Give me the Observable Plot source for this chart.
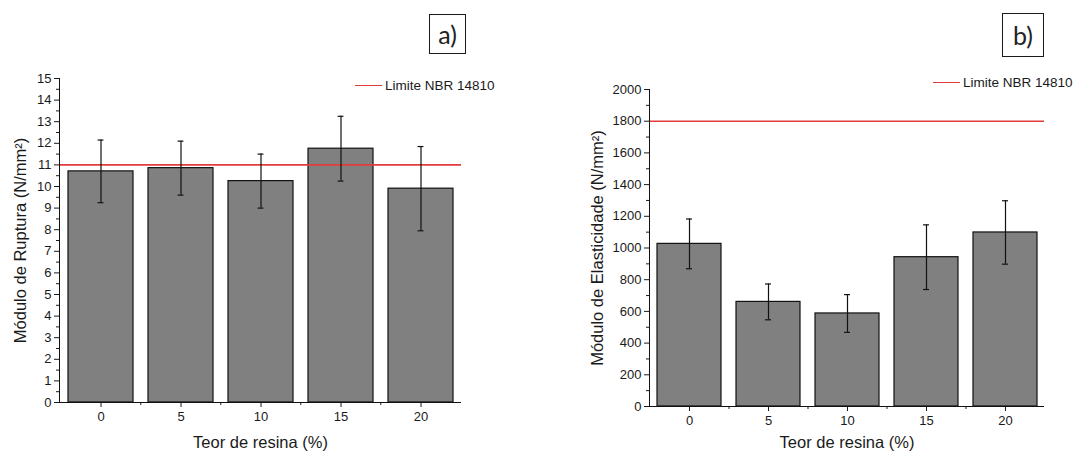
<!DOCTYPE html>
<html>
<head>
<meta charset="utf-8">
<script src="https://cdn.jsdelivr.net/npm/d3@7"></script>
<script src="https://cdn.jsdelivr.net/npm/@observablehq/plot@0.6"></script>
<style>
  html, body { margin: 0; padding: 0; background: #fff; }
  #wrap { position: relative; width: 1073px; height: 452px; overflow: hidden; font-family: "Liberation Sans", Arial, sans-serif; color: #1a1a1a; }
  .panel { position: absolute; top: 0; }
  .tag { position: absolute; box-sizing: border-box; border: 1.5px solid #1a1a1a; font-family: Lato, "DejaVu Sans", sans-serif; font-size: 25px; display: flex; align-items: center; justify-content: center; color: #222; line-height: 1; }
  .legend { position: absolute; height: 16px; display: flex; align-items: center; font-size: 13.5px; white-space: nowrap; color: #1a1a1a; }
  .legend .swatch { display: inline-block; height: 0; border-top: 1.5px solid #e33b3b; margin-right: 3px; }
</style>
</head>
<body>
<div id="wrap"></div>
<script>
// ---------- data ----------
const categories = ["0", "5", "10", "15", "20"];
const xTitle = "Teor de resina (%)";
const legendText = "Limite NBR 14810";

const ruptureTitle = "Módulo de Ruptura (N/mm²)";
const ruptureMean = [10.7, 10.85, 10.25, 11.75, 9.9];
const ruptureErr = [1.45, 1.25, 1.25, 1.5, 1.95];
const ruptureLimit = 11;
const ruptureTicks = [0, 1, 2, 3, 4, 5, 6, 7, 8, 9, 10, 11, 12, 13, 14, 15];
const ruptureMinorTicks = [0.5, 1.5, 2.5, 3.5, 4.5, 5.5, 6.5, 7.5, 8.5, 9.5, 10.5, 11.5, 12.5, 13.5, 14.5];

const elastTitle = "Módulo de Elasticidade (N/mm²)";
const elastMean = [1026, 660, 587, 942, 1098];
const elastErr = [157, 113, 119, 204, 200];
const elastLimit = 1800;
const elastTicks = [0, 200, 400, 600, 800, 1000, 1200, 1400, 1600, 1800, 2000];
const elastMinorTicks = [100, 300, 500, 700, 900, 1100, 1300, 1500, 1700, 1900];

// ---------- drawing ----------
const wrap = document.getElementById("wrap");
const FONT = "'Liberation Sans', Arial, sans-serif";

function panel(o) {
  const data = categories.map((c, i) => ({
    c, v: o.mean[i], lo: o.mean[i] - o.err[i], hi: o.mean[i] + o.err[i]
  }));
  const plotW = o.width - o.ml - o.mr;
  const step = plotW / categories.length;
  const capInset = (step * (1 - 0.19) - 6) / 2;
  const capStyle = {x: "c", stroke: "#111", strokeWidth: 1.2, insetLeft: capInset, insetRight: capInset};
  const chart = Plot.plot({
    width: o.width,
    height: 452,
    marginLeft: o.ml, marginRight: o.mr, marginTop: o.mt, marginBottom: o.mb,
    style: {fontFamily: FONT, fontSize: "13px", color: "#1a1a1a", background: "transparent", overflow: "visible"},
    x: {domain: categories, paddingInner: 0.19, paddingOuter: 0.095, label: null},
    y: {domain: o.domain, label: null},
    marks: [
      Plot.barY(data, {x: "c", y: "v", fill: "#808080", stroke: "#111", strokeWidth: 1.2}),
      Plot.ruleY([o.limit], {stroke: "#e33b3b", strokeWidth: 1.6}),
      Plot.ruleX(data, {x: "c", y1: "lo", y2: "hi", stroke: "#111", strokeWidth: 1.2}),
      Plot.tickY(data, {...capStyle, y: "lo"}),
      Plot.tickY(data, {...capStyle, y: "hi"}),
      Plot.axisY({ticks: o.ticks, tickSize: 5, tickPadding: 3, tickFormat: "d", label: null, fontSize: 13}),
      Plot.axisY({ticks: o.minor, tickSize: 3, tickFormat: () => "", label: null}),
      Plot.axisX({tickSize: 5, tickPadding: 4, label: null, fontSize: 13}),
      Plot.axisX({ticks: categories.slice(1), tickSize: 3, dx: -step / 2, tickFormat: () => "", label: null}),
      Plot.frame({anchor: "left", stroke: "#111"}),
      Plot.ruleY([o.domain[0]], {stroke: "#111", strokeWidth: 1.2}),
      Plot.text([o.yTitle], {frameAnchor: "left", textAnchor: "middle", lineAnchor: "middle", rotate: -90, dx: o.yTitleDx, fontSize: 16.5, fill: "#1a1a1a"}),
      Plot.text([xTitle], {frameAnchor: "bottom", textAnchor: "middle", lineAnchor: "middle", dy: o.xTitleDy, fontSize: 16.5, fill: "#1a1a1a"})
    ]
  });
  chart.classList.add("panel");
  chart.style.left = o.left + "px";
  wrap.appendChild(chart);

  const tag = document.createElement("div");
  tag.className = "tag";
  tag.textContent = o.tag;
  Object.assign(tag.style, {left: o.tagBox[0] + "px", top: o.tagBox[1] + "px", width: o.tagBox[2] + "px", height: o.tagBox[3] + "px"});
  wrap.appendChild(tag);

  const leg = document.createElement("div");
  leg.className = "legend";
  leg.style.left = o.legend[0] + "px";
  leg.style.top = (o.legend[1] - 8) + "px";
  const sw = document.createElement("span");
  sw.className = "swatch";
  sw.style.width = o.legend[2] + "px";
  leg.appendChild(sw);
  leg.appendChild(document.createTextNode(legendText));
  wrap.appendChild(leg);
}

panel({
  left: 0, width: 536, ml: 59, mr: 75, mt: 78, mb: 50,
  mean: ruptureMean, err: ruptureErr, limit: ruptureLimit, domain: [0, 15],
  ticks: ruptureTicks, minor: ruptureMinorTicks, yTitle: ruptureTitle,
  yTitleDx: -39, xTitleDy: 40,
  tag: "a)", tagBox: [429, 14, 37, 40],
  legend: [355, 85, 27]
});

panel({
  left: 536, width: 537, ml: 113, mr: 29, mt: 89, mb: 46,
  mean: elastMean, err: elastErr, limit: elastLimit, domain: [0, 2000],
  ticks: elastTicks, minor: elastMinorTicks, yTitle: elastTitle,
  yTitleDx: -52, xTitleDy: 36,
  tag: "b)", tagBox: [1002, 13, 42, 44],
  legend: [933, 82, 27]
});
</script>
</body>
</html>
